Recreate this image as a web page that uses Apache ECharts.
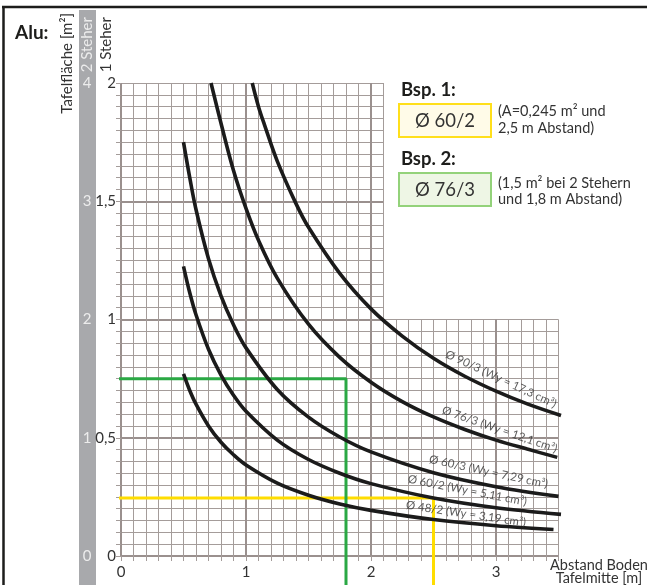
<!DOCTYPE html>
<html><head><meta charset="utf-8">
<script src="https://cdn.jsdelivr.net/npm/echarts@6/dist/echarts.min.js"></script>
<style>html,body{margin:0;padding:0;background:#fff}#c{width:647px;height:585px}</style>
</head><body><div id="c"></div>
<script>
// ---- data ----
const curveNames = ['Ø 90/3 (Wy = 17,3 cm³)', 'Ø 76/3 (Wy = 12,1 cm³)', 'Ø 60/3 (Wy = 7,29 cm³)', 'Ø 60/2 (Wy = 5,11 cm³)', 'Ø 48/2 (Wy = 3,19 cm³)'];
const c90x = [1.05, 1.1, 1.15, 1.25, 1.4, 1.5, 1.75, 2.0, 2.25, 2.5, 2.75, 3.0, 3.25, 3.52];
const c90y = [2.0, 1.9, 1.82, 1.67, 1.49, 1.39, 1.195, 1.045, 0.93, 0.836, 0.76, 0.697, 0.643, 0.594];
const c76x = [0.72, 0.8, 0.9, 1.0, 1.1, 1.25, 1.5, 1.75, 2.0, 2.25, 2.5, 2.75, 3.0, 3.25, 3.49];
const c76y = [2.0, 1.83, 1.63, 1.47, 1.335, 1.175, 0.98, 0.84, 0.735, 0.653, 0.588, 0.535, 0.49, 0.452, 0.417];
const c603x = [0.5, 0.55, 0.6, 0.7, 0.8, 0.9, 1.0, 1.25, 1.5, 1.75, 2.0, 2.5, 3.0, 3.5];
const c603y = [1.75, 1.6, 1.465, 1.257, 1.1, 0.978, 0.88, 0.704, 0.587, 0.503, 0.44, 0.352, 0.293, 0.252];
const c602x = [0.5, 0.55, 0.6, 0.7, 0.8, 0.9, 1.0, 1.25, 1.5, 1.75, 2.0, 2.5, 3.0, 3.52];
const c602y = [1.225, 1.113, 1.02, 0.874, 0.765, 0.68, 0.612, 0.49, 0.408, 0.35, 0.306, 0.245, 0.204, 0.176];
const c48x = [0.5, 0.55, 0.6, 0.7, 0.8, 0.9, 1.0, 1.25, 1.5, 1.75, 2.0, 2.5, 3.0, 3.46];
const c48y = [0.77, 0.7, 0.642, 0.55, 0.481, 0.428, 0.385, 0.308, 0.257, 0.22, 0.193, 0.154, 0.128, 0.112];
// example 1 (yellow): 0.245 m², 2.5 m ; example 2 (green): 0.75 m² (1.5 m² at 2 posts), 1.8 m
const ex1X = [-0.03, 2.5, 2.5];
const ex1Y = [0.245, 0.245, -0.13];
const ex2X = [-0.16, 1.8, 1.8];
const ex2Y = [0.75, 0.75, -0.13];
const xTicks = [0, 1, 2, 3];
const yTicks1 = ['0', '0,5', '1', '1,5', '2'];
const yTicks2 = ['0', '1', '2', '3', '4'];

// ---- chart ----
const FONT = 'Lato, "Noto Sans", sans-serif';
const minorC = '#a49c9a', majorC = '#9a908e';
const zip = (xs, ys) => xs.map((x, i) => [x, ys[i]]);
const curveX = [c90x, c76x, c603x, c602x, c48x];
const curveY = [c90y, c76y, c603y, c602y, c48y];
// label anchors (centre of rotated text) and angles
const labelAt = [[3.04, 0.748, -25], [3.03, 0.535, -19], [2.94, 0.356, -12], [2.77, 0.277, -11], [2.76, 0.178, -8.5]];

const series = [];
curveX.forEach((xs, i) => {
  series.push({
    type: 'line', name: curveNames[i], xAxisIndex: 0, yAxisIndex: 0, data: zip(xs, curveY[i]),
    showSymbol: false, smooth: 0.35, clip: false, z: 5,
    lineStyle: { color: '#1b1b1b', width: 3.6 }
  });
  series.push({
    type: 'scatter', xAxisIndex: 0, yAxisIndex: 0, symbolSize: 0, silent: true, z: 6,
    data: [[labelAt[i][0], labelAt[i][1]]],
    label: { show: true, position: 'inside', formatter: curveNames[i], rotate: labelAt[i][2],
      fontSize: 11.5, color: '#333', fontFamily: FONT }
  });
});
series.push({ type: 'line', xAxisIndex: 0, yAxisIndex: 0, data: zip(ex1X, ex1Y), showSymbol: false, clip: false, z: 4,
  lineStyle: { color: '#ffdd00', width: 3 } });
series.push({ type: 'line', xAxisIndex: 0, yAxisIndex: 0, data: zip(ex2X, ex2Y), showSymbol: false, clip: false, z: 4,
  lineStyle: { color: '#2aa844', width: 3 } });

function gridAxis(grid, dim, min, max, interval, major, ticks) {
  return {
    type: 'value', gridIndex: grid, min, max, interval, position: dim === 'x' ? 'bottom' : 'left',
    axisLine: { show: false }, axisLabel: { show: false },
    axisTick: { show: ticks, length: 5, lineStyle: { color: minorC, width: 1 } },
    splitLine: { show: true, showMaxLine: !major, lineStyle: { color: major ? majorC : minorC, width: major ? 2 : 1 } }
  };
}

const option = {
  animation: false,
  grid: [
    { left: 121, top: 83, width: 437.5, height: 473 },
    { left: 121, top: 319.5, width: 437.5, height: 236.5 },
    { left: 121, top: 83, width: 262.5, height: 236.5 }
  ],
  xAxis: [
    { type: 'value', gridIndex: 0, min: 0, max: 3.5, interval: 1, position: 'bottom',
      axisLine: { show: false }, axisTick: { show: false }, splitLine: { show: false },
      axisLabel: { margin: 9, fontSize: 15, color: '#333', fontFamily: FONT, showMaxLabel: false,
        formatter: v => xTicks.includes(v) ? String(v) : '' } },
    gridAxis(1, 'x', 0, 3.5, 0.1, false, true),
    gridAxis(1, 'x', 0, 3.5, 1, true, false),
    gridAxis(2, 'x', 0, 2.1, 0.1, false, false),
    gridAxis(2, 'x', 0, 2.1, 1, true, false)
  ],
  yAxis: [
    { type: 'value', gridIndex: 0, min: 0, max: 2, interval: 0.5, position: 'left',
      axisLine: { show: false }, axisTick: { show: false }, splitLine: { show: false },
      axisLabel: { margin: 5, fontSize: 15, color: '#333', fontFamily: FONT,
        formatter: v => yTicks1[Math.round(v * 2)] } },
    { type: 'value', gridIndex: 0, min: 0, max: 2, interval: 0.5, position: 'left',
      axisLine: { show: false }, axisTick: { show: false }, splitLine: { show: false },
      axisLabel: { margin: 34, align: 'center', fontSize: 15, color: '#ececec', fontFamily: FONT,
        formatter: v => yTicks2[Math.round(v * 2)] } },
    gridAxis(1, 'y', 0, 1, 0.05, false, true),
    gridAxis(1, 'y', 0, 1, 0.5, true, false),
    gridAxis(2, 'y', 1, 2, 0.05, false, true),
    gridAxis(2, 'y', 1, 2, 0.5, true, false)
  ],
  series,
  graphic: [
    { type: 'rect', shape: { x: 79, y: 10, width: 17, height: 580 }, style: { fill: '#a8a9ac' }, z: -1 },
    { type: 'line', shape: { x1: 3.5, y1: 6, x2: 3.5, y2: 590 }, style: { stroke: '#1d1d1b', lineWidth: 2.5 } },
    { type: 'line', shape: { x1: 2, y1: 7, x2: 650, y2: 7 }, style: { stroke: '#1d1d1b', lineWidth: 2.5 } },
    { type: 'text', x: 15, y: 33, style: { text: 'Alu:', font: 'bold 19px ' + FONT, fill: '#1d1d1b', verticalAlign: 'middle' } },
    { type: 'text', x: 67, y: 13, rotation: Math.PI / 2, style: { text: 'Tafelfläche [m²]', font: '15px ' + FONT, fill: '#333', align: 'right', verticalAlign: 'middle' } },
    { type: 'text', x: 87.5, y: 17, rotation: Math.PI / 2, style: { text: '2 Steher', font: '15px ' + FONT, fill: '#ececec', align: 'right', verticalAlign: 'middle' } },
    { type: 'text', x: 106, y: 17, rotation: Math.PI / 2, style: { text: '1 Steher', font: '15px ' + FONT, fill: '#333', align: 'right', verticalAlign: 'middle' } },
    { type: 'text', x: 599, y: 565, style: { text: 'Abstand Boden', font: '14.5px ' + FONT, fill: '#333', align: 'center', verticalAlign: 'middle' } },
    { type: 'text', x: 599, y: 578, style: { text: 'Tafelmitte [m]', font: '14.5px ' + FONT, fill: '#333', align: 'center', verticalAlign: 'middle' } },
    { type: 'text', x: 401, y: 90, style: { text: 'Bsp. 1:', font: 'bold 18.5px ' + FONT, fill: '#1d1d1b', verticalAlign: 'middle' } },
    { type: 'rect', shape: { x: 399, y: 104, width: 92, height: 33 }, style: { fill: '#fffbe8', stroke: '#ffdf1b', lineWidth: 2 } },
    { type: 'text', x: 445, y: 121, style: { text: 'Ø 60/2', font: '18.5px ' + FONT, fill: '#333', align: 'center', verticalAlign: 'middle' } },
    { type: 'text', x: 498, y: 111, style: { text: '(A=0,245 m² und', font: '14.5px ' + FONT, fill: '#333', verticalAlign: 'middle' } },
    { type: 'text', x: 498, y: 128, style: { text: '2,5 m Abstand)', font: '14.5px ' + FONT, fill: '#333', verticalAlign: 'middle' } },
    { type: 'text', x: 401, y: 159, style: { text: 'Bsp. 2:', font: 'bold 18.5px ' + FONT, fill: '#1d1d1b', verticalAlign: 'middle' } },
    { type: 'rect', shape: { x: 399, y: 173, width: 92, height: 33 }, style: { fill: '#eef6e5', stroke: '#93d27a', lineWidth: 2 } },
    { type: 'text', x: 445, y: 190, style: { text: 'Ø 76/3', font: '18.5px ' + FONT, fill: '#333', align: 'center', verticalAlign: 'middle' } },
    { type: 'text', x: 498, y: 183, style: { text: '(1,5 m² bei 2 Stehern', font: '14.5px ' + FONT, fill: '#333', verticalAlign: 'middle' } },
    { type: 'text', x: 498, y: 199, style: { text: 'und 1,8 m Abstand)', font: '14.5px ' + FONT, fill: '#333', verticalAlign: 'middle' } }
  ]
};
const chart = echarts.init(document.getElementById('c'), null, { renderer: 'canvas' });
chart.setOption(option);
</script>
</body></html>
